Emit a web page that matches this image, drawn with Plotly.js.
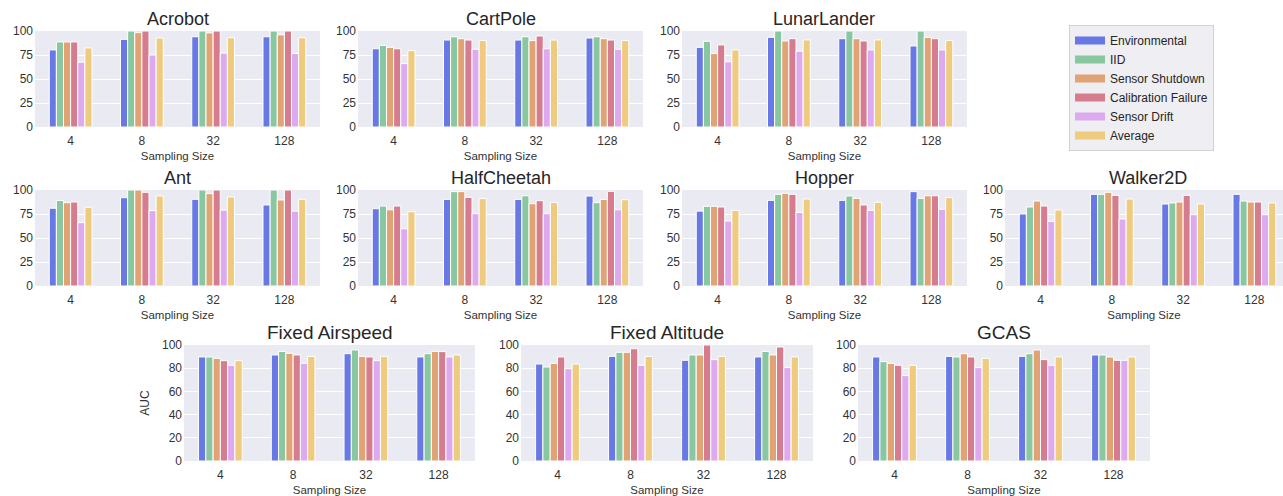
<!DOCTYPE html>
<html>
<head>
<meta charset="utf-8">
<script src="https://cdn.plot.ly/plotly-3.0.1.min.js"></script>
<style>html,body{margin:0;padding:0;background:#fff;}#chart{width:1283px;height:496px;}</style>
</head>
<body>
<div id="chart"></div>
<script>
// ---- Data (AUC) ----
const samplingSizes = ['4', '8', '32', '128'];
const seriesNames = ['Environmental', 'IID', 'Sensor Shutdown', 'Calibration Failure', 'Sensor Drift', 'Average'];
const seriesColors = ['#6878e4', '#88c79f', '#e2a374', '#d67c8f', '#ddaaf0', '#eecb7e'];

// rows follow seriesNames, columns follow samplingSizes
const acrobot = [
  [80.3, 91.3, 94.0, 94.0],
  [88.6, 100, 100, 100],
  [88.6, 98.3, 98.0, 96.0],
  [88.6, 100, 100, 100],
  [67.5, 75.0, 77.0, 76.5],
  [82.4, 92.7, 93.0, 93.0]
];
const cartPole = [
  [81.5, 90.6, 90.6, 92.7],
  [85.0, 94.0, 94.0, 94.0],
  [83.0, 92.0, 90.0, 92.0],
  [81.5, 90.6, 94.8, 90.6],
  [66.0, 81.0, 81.5, 81.0],
  [79.5, 90.0, 90.6, 90.0]
];
const lunarLander = [
  [83.0, 93.4, 92.0, 84.4],
  [89.3, 100, 100, 100],
  [76.5, 89.6, 92.0, 93.4],
  [85.5, 92.0, 89.6, 92.0],
  [68.0, 79.0, 80.3, 80.3],
  [80.3, 90.7, 90.7, 90.0]
];
const ant = [
  [81.0, 92.0, 90.3, 84.4],
  [89.0, 100, 100, 100],
  [86.8, 100, 96.2, 89.6],
  [87.5, 97.6, 100, 100],
  [66.0, 78.5, 79.0, 78.0],
  [82.0, 93.8, 92.7, 90.3]
];
const halfCheetah = [
  [80.5, 90.2, 90.2, 93.7],
  [83.3, 98.3, 94.0, 86.8],
  [79.4, 98.3, 85.7, 90.2],
  [83.3, 92.3, 88.9, 98.6],
  [59.6, 75.3, 75.3, 79.4],
  [77.4, 91.0, 87.0, 89.9]
];
const hopper = [
  [78.0, 89.2, 89.2, 98.3],
  [83.0, 95.5, 93.8, 91.3],
  [83.0, 96.5, 91.3, 94.0],
  [82.3, 95.5, 84.4, 94.0],
  [67.7, 76.7, 78.8, 79.9],
  [78.8, 90.6, 87.2, 92.0]
];
const walker2D = [
  [75.0, 95.5, 85.4, 95.5],
  [82.3, 95.5, 86.5, 88.5],
  [88.5, 97.6, 87.5, 87.5],
  [83.3, 94.4, 94.4, 87.5],
  [67.4, 69.8, 74.3, 74.3],
  [79.2, 90.6, 85.4, 86.5]
];
const fixedAirspeed = [
  [89.7, 91.4, 92.5, 89.7],
  [89.7, 94.5, 95.7, 92.5],
  [88.5, 92.8, 90.2, 94.5],
  [86.5, 91.4, 89.7, 94.3],
  [82.5, 84.2, 86.5, 89.7],
  [86.5, 90.2, 90.2, 91.4]
];
const fixedAltitude = [
  [83.6, 90.2, 86.8, 89.7],
  [81.0, 93.7, 91.4, 94.5],
  [84.2, 93.7, 91.4, 91.4],
  [89.7, 96.8, 100, 98.3],
  [79.6, 82.5, 87.4, 80.5],
  [83.6, 90.2, 90.2, 89.7]
];
const gcas = [
  [89.7, 90.2, 90.2, 91.4],
  [85.6, 89.7, 92.5, 91.4],
  [84.2, 92.5, 95.7, 89.7],
  [82.5, 89.7, 87.4, 86.8],
  [73.6, 80.5, 82.5, 86.8],
  [82.5, 88.5, 89.7, 89.7]
];
const ticksQuarter = [0, 25, 50, 75, 100];
const ticksFifth = [0, 20, 40, 60, 80, 100];

// ---- Layout of panels (pixel boxes) ----
const W = 1283, H = 496;
const panels = [
  {title: 'Acrobot', data: acrobot, px: [35, 320], py: [31, 127], ticks: ticksQuarter, tsize: 18},
  {title: 'CartPole', data: cartPole, px: [358, 643], py: [31, 127], ticks: ticksQuarter, tsize: 18},
  {title: 'LunarLander', data: lunarLander, px: [682, 967], py: [31, 127], ticks: ticksQuarter, tsize: 18},
  {title: 'Ant', data: ant, px: [35, 320], py: [190, 286], ticks: ticksQuarter, tsize: 18},
  {title: 'HalfCheetah', data: halfCheetah, px: [358, 643], py: [190, 286], ticks: ticksQuarter, tsize: 18},
  {title: 'Hopper', data: hopper, px: [682, 967], py: [190, 286], ticks: ticksQuarter, tsize: 18},
  {title: 'Walker2D', data: walker2D, px: [1005, 1290], py: [190, 286], ticks: ticksQuarter, tsize: 18},
  {title: 'Fixed Airspeed', data: fixedAirspeed, px: [184, 475], py: [345, 461], ticks: ticksFifth, ylabel: 'AUC', tsize: 19},
  {title: 'Fixed Altitude', data: fixedAltitude, px: [521, 813], py: [345, 461], ticks: ticksFifth, tsize: 19},
  {title: 'GCAS', data: gcas, px: [858, 1150], py: [345, 461], ticks: ticksFifth, tsize: 19}
];

const FONT = '"Liberation Sans", Arial, "DejaVu Sans", sans-serif';
const traces = [];
const layout = {
  width: W, height: H,
  margin: {l: 0, r: 0, t: 0, b: 0},
  paper_bgcolor: '#ffffff',
  plot_bgcolor: '#eaeaf2',
  barmode: 'group',
  bargap: 0.4,
  bargroupgap: 0,
  font: {family: FONT, color: '#333333', size: 11},
  showlegend: true,
  legend: {
    x: 1069 / W, y: 1 - 25 / H, xanchor: 'left', yanchor: 'top',
    bgcolor: '#eeeef3', bordercolor: '#d0d0d8', borderwidth: 1,
    font: {family: FONT, size: 12, color: '#262626'},
    tracegroupgap: 0, itemwidth: 30
  },
  annotations: []
};

panels.forEach((p, i) => {
  const n = i + 1;
  const xa = 'xaxis' + (n === 1 ? '' : n);
  const ya = 'yaxis' + (n === 1 ? '' : n);
  const xd0 = p.px[0] / W;
  let xd1 = p.px[1] / W;
  let xr1 = 3.5;
  if (xd1 > 1) {
    // panel runs past the right edge: clip the domain, keep the scale
    xr1 = -0.5 + 4 * (W - p.px[0]) / (p.px[1] - p.px[0]);
    xd1 = 1;
  }
  const yd0 = 1 - p.py[1] / H, yd1 = 1 - p.py[0] / H;
  layout[xa] = {
    domain: [xd0, xd1], anchor: 'y' + n, type: 'category',
    range: [-0.5, xr1], showgrid: false, zeroline: false, showline: false,
    ticks: '', tickfont: {size: 12, color: '#333333'}, ticklabelstandoff: 5,
    title: {text: 'Sampling Size', font: {size: 11.5, color: '#333333'}, standoff: 4},
    fixedrange: true, automargin: false
  };
  layout[ya] = {
    domain: [yd0, yd1], anchor: 'x' + n, range: [0, 100],
    tickvals: p.ticks, ticktext: p.ticks.map(String),
    showgrid: true, gridcolor: '#ffffff', gridwidth: 1, zeroline: false, showline: false,
    ticks: '', tickfont: {size: 12, color: '#333333'}, ticklabelstandoff: 1,
    fixedrange: true, automargin: false
  };
  if (p.ylabel) {
    layout[ya].title = {text: p.ylabel, font: {size: 12, color: '#333333'}, standoff: 9};
  }
  layout.annotations.push({
    text: p.title, xref: 'paper', yref: 'paper',
    x: (p.px[0] + p.px[1]) / 2 / W, y: yd1, xanchor: 'center', yanchor: 'bottom',
    yshift: 0, showarrow: false,
    font: {family: FONT, size: p.tsize, color: '#262626'}
  });
  seriesNames.forEach((s, k) => {
    traces.push({
      type: 'bar', name: s, x: samplingSizes, y: p.data[k],
      xaxis: 'x' + n, yaxis: 'y' + n,
      marker: {color: seriesColors[k], line: {color: '#ffffff', width: 1}},
      showlegend: false, legendgroup: s,
      hoverinfo: 'skip'
    });
  });
});

// legend keys: wide flat swatches like the reference
seriesNames.forEach((s, k) => {
  traces.push({
    type: 'scatter', mode: 'lines', name: s, x: [null], y: [null],
    xaxis: 'x', yaxis: 'y',
    line: {color: seriesColors[k], width: 8},
    showlegend: true, legendgroup: s, hoverinfo: 'skip'
  });
});

Plotly.newPlot('chart', traces, layout, {staticPlot: true, displayModeBar: false});
</script>
</body>
</html>
